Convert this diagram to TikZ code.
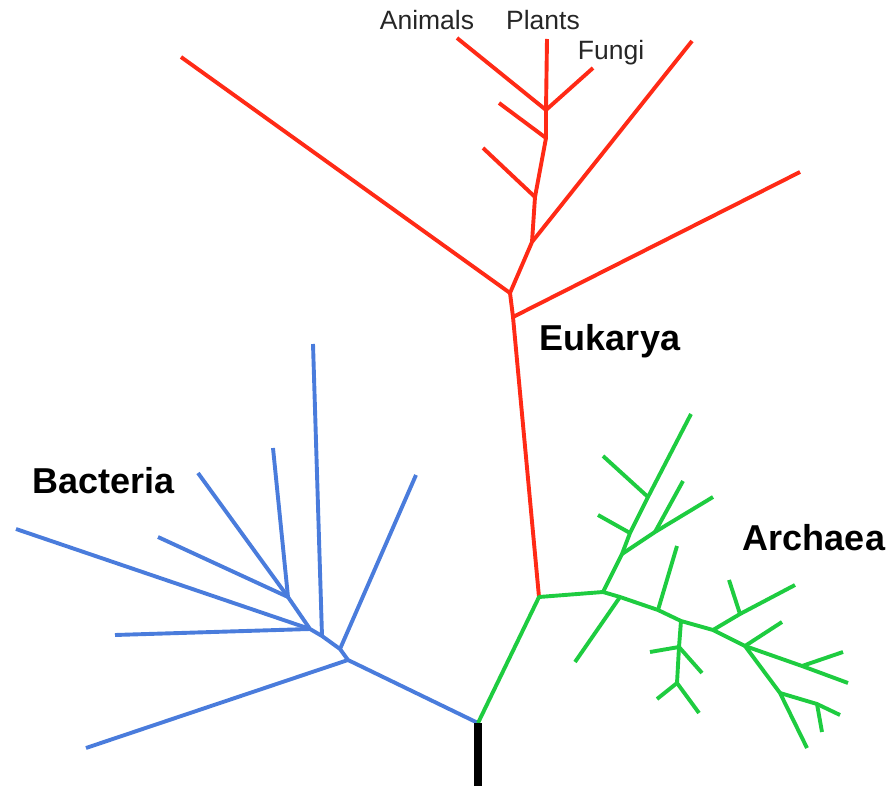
\documentclass[tikz,border=0pt]{standalone}
\usepackage{fontspec}
\setmainfont{Liberation Sans}
\definecolor{eured}{RGB}{255,42,22}
\definecolor{bacblue}{RGB}{74,124,220}
\definecolor{argreen}{RGB}{30,204,64}
\begin{document}
\begin{tikzpicture}[x=1pt,y=-1pt,
  br/.style={line width=3.9pt, line join=round},
  redbr/.style={br, eured},
  bluebr/.style={br, bacblue},
  greenbr/.style={br, argreen},
  small/.style={font=\fontsize{26.5}{30}\selectfont, text=black!85, inner sep=0pt, anchor=base},
  big/.style={font=\fontsize{36}{40}\selectfont\bfseries, inner sep=0pt, anchor=base}]
\useasboundingbox (0,0) rectangle (886,786);
% ---------- root ----------
\coordinate (root) at (478,723);
\coordinate (base) at (478,786);
\coordinate (rr) at (539,597);
% ---------- Eukarya ----------
\coordinate (e1) at (513,317);
\coordinate (e2) at (510,293);
\coordinate (e3) at (532,242);
\coordinate (e4) at (535,197);
\coordinate (e5) at (546,138);
\coordinate (e6) at (546,110);
\coordinate (eR1) at (800,172);
\coordinate (eL1) at (181,57);
\coordinate (eR2) at (692,41);
\coordinate (eL4) at (483,148);
\coordinate (eL5) at (499,103);
\coordinate (anim) at (457,38);
\coordinate (plant) at (547,39);
\coordinate (fung) at (593,68);
\draw[redbr] (rr) -- (e1) -- (e2) -- (e3) -- (e4) -- (e5) -- (e6) -- (plant);
\draw[redbr] (e1) -- (eR1);
\draw[redbr] (e2) -- (eL1);
\draw[redbr] (e3) -- (eR2);
\draw[redbr] (e4) -- (eL4);
\draw[redbr] (e5) -- (eL5);
\draw[redbr] (e6) -- (anim);
\draw[redbr] (e6) -- (fung);
% ---------- Bacteria ----------
\coordinate (b1) at (348,660);
\coordinate (b2) at (340,649);
\coordinate (b3) at (322,636);
\coordinate (b4) at (310,629);
\coordinate (b5) at (288,597);
\coordinate (bl1) at (86,748);
\coordinate (bl2) at (416,475);
\coordinate (bl3) at (313,344);
\coordinate (bl4a) at (16,529);
\coordinate (bl4b) at (115,635);
\coordinate (bl5a) at (273,448);
\coordinate (bl5b) at (198,473);
\coordinate (bl5c) at (158,537);
\draw[bluebr] (root) -- (b1) -- (b2) -- (b3) -- (b4) -- (b5);
\draw[bluebr] (b1) -- (bl1);
\draw[bluebr] (b2) -- (bl2);
\draw[bluebr] (b3) -- (bl3);
\draw[bluebr] (b4) -- (bl4a);
\draw[bluebr] (b4) -- (bl4b);
\draw[bluebr] (b5) -- (bl5a);
\draw[bluebr] (b5) -- (bl5b);
\draw[bluebr] (b5) -- (bl5c);
% ---------- Archaea ----------
\coordinate (g1) at (603,592);
\coordinate (g2) at (620,597);
\coordinate (g3) at (658,610);
\coordinate (g4) at (681,621);
\coordinate (g5) at (713,630);
\coordinate (g6) at (745,646);
\coordinate (g7) at (802,666);
\coordinate (gtip) at (848,683);
% upper branch
\coordinate (u1) at (622,554);
\coordinate (u2) at (630,533);
\coordinate (u3) at (648,497);
\coordinate (utip) at (691,414);
\coordinate (u1a) at (655,532);
\coordinate (u1tip) at (713,497);
\coordinate (u1atip) at (683,481);
\coordinate (u2tip) at (598,515);
\coordinate (u3tip) at (603,456);
\draw[greenbr] (root) -- (rr) -- (g1) -- (g2) -- (g3) -- (g4) -- (g5) -- (g6) -- (g7) -- (gtip);
\draw[greenbr] (g1) -- (u1) -- (u2) -- (u3) -- (utip);
\draw[greenbr] (u1) -- (u1a) -- (u1tip);
\draw[greenbr] (u1a) -- (u1atip);
\draw[greenbr] (u2) -- (u2tip);
\draw[greenbr] (u3) -- (u3tip);
% lower branches
\coordinate (g2tip) at (575,662);
\coordinate (g3tip) at (677,546);
\coordinate (d1) at (679,647);
\coordinate (d2) at (677,683);
\coordinate (d1a) at (650,652);
\coordinate (d1b) at (702,673);
\coordinate (d2a) at (657,699);
\coordinate (d2b) at (699,713);
\draw[greenbr] (g2) -- (g2tip);
\draw[greenbr] (g3) -- (g3tip);
\draw[greenbr] (g4) -- (d1) -- (d2);
\draw[greenbr] (d1) -- (d1a);
\draw[greenbr] (d1) -- (d1b);
\draw[greenbr] (d2) -- (d2a);
\draw[greenbr] (d2) -- (d2b);
\coordinate (h1) at (740,614);
\coordinate (h1tip) at (795,585);
\coordinate (h1a) at (729,580);
\draw[greenbr] (g5) -- (h1) -- (h1tip);
\draw[greenbr] (h1) -- (h1a);
\coordinate (g6a) at (782,622);
\coordinate (k1) at (780,693);
\coordinate (ktip) at (807,748);
\coordinate (k2) at (817,704);
\coordinate (k2a) at (840,715);
\coordinate (k2b) at (822,732);
\draw[greenbr] (g6) -- (g6a);
\draw[greenbr] (g6) -- (k1) -- (ktip);
\draw[greenbr] (k1) -- (k2) -- (k2a);
\draw[greenbr] (k2) -- (k2b);
\coordinate (g7tip) at (843,652);
\draw[greenbr] (g7) -- (g7tip);
% ---------- stem ----------
\draw[line width=8.5pt, black] (root) -- (base);
% ---------- labels ----------
\node[small] (tAnimals) at (427,30) {Animals};
\node[small] (tPlants) at (543,30) {Plants};
\node[small] (tFungi) at (611,60) {Fungi};
\node[big] (tEuk) at (610,350) {Eukarya};
\node[big] (tBac) at (104,493) {Bacteria};
\node[big] (tArc) at (814,550) {Archaea};
\end{tikzpicture}
\end{document}
